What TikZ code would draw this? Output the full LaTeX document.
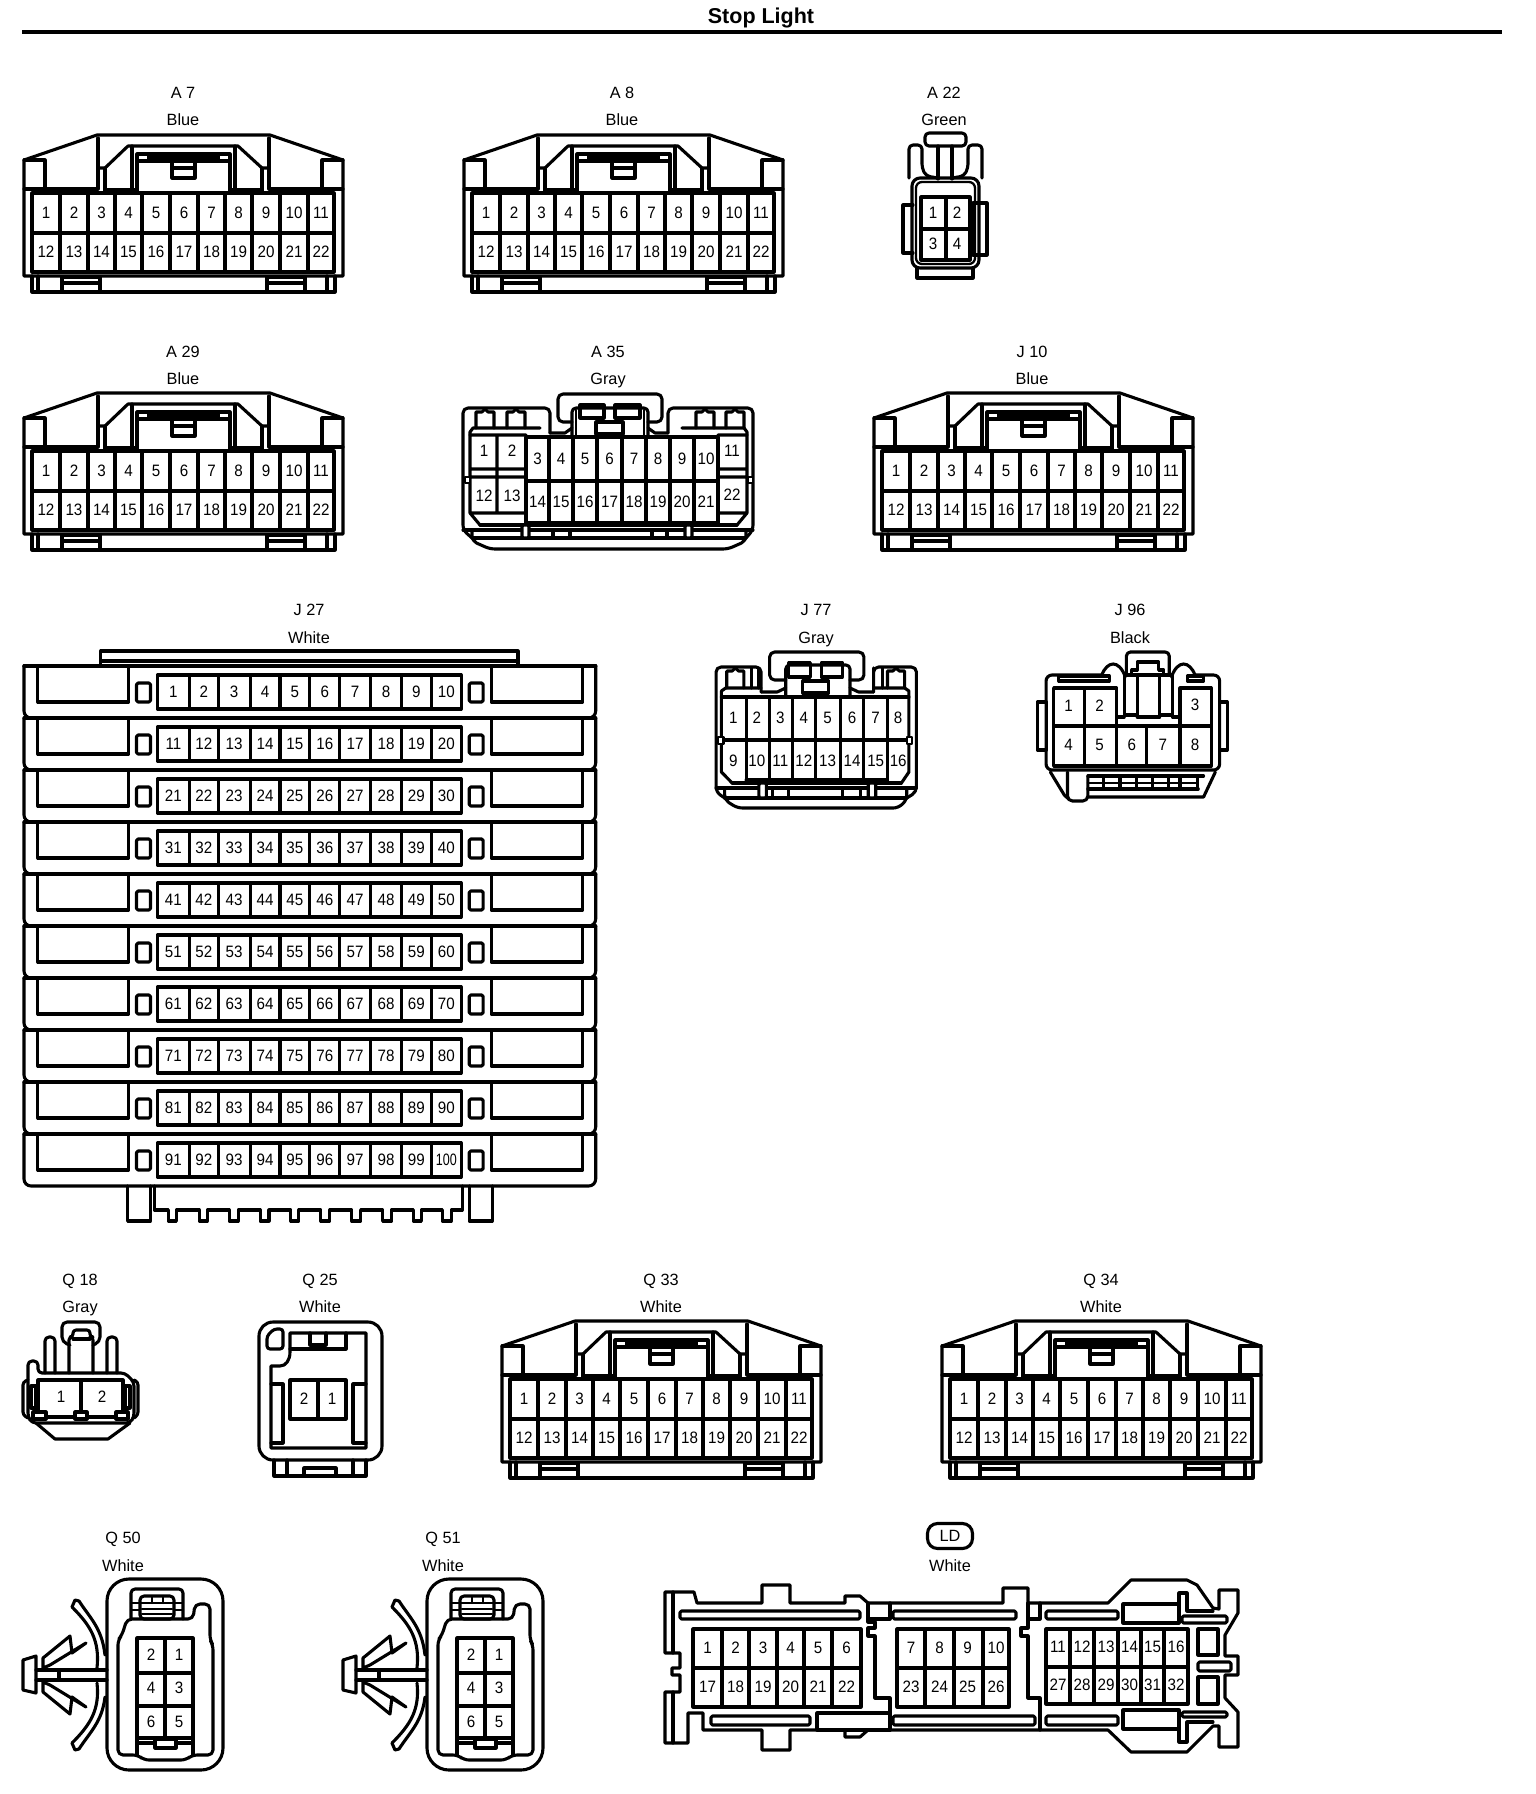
\documentclass[tikz,border=0pt]{standalone}
\usepackage{fontspec}
\setmainfont{Liberation Sans}
\newfontfamily\numf[FakeStretch=0.92]{Liberation Sans}
\newfontfamily\numg[FakeStretch=0.76]{Liberation Sans}
\newcount\nodeid
\tikzset{
  ln/.style={line width=3.1pt,line join=round,line cap=round},
  thn/.style={line width=2.3pt,line join=round,line cap=round},
  pintext/.style={font=\numf\fontsize{16.5}{17}\selectfont,inner sep=0pt,text=black},
  captext/.style={font=\fontsize{16.3}{17}\selectfont,inner sep=0pt,text=black,anchor=base},
  caprnd/.style={draw,ln,rounded corners=10pt,minimum width=45pt,minimum height=25pt,inner sep=0pt,font=\fontsize{16.3}{17}\selectfont}
}
\newcommand\pin[3]{\global\advance\nodeid by 1 \node[pintext] (p\the\nodeid) at (#1,#2) {#3};}
\newcommand\captxt[3]{\global\advance\nodeid by 1 \node[captext] (c\the\nodeid) at (#1,#2+6.5) {#3};}
\newcommand\gridv[3]{\foreach \vx in {#1} {\draw[ln] (\vx,#2) -- (\vx,#3);}}
\newcommand\hut[4][9]{\draw[ln] (#2-#1,#3) -- (#2-#1,#4+3) -- (#2-3,#4+3) -- (#2,#4) -- (#2+3,#4+3) -- (#2+#1,#4+3) -- (#2+#1,#3);}
% 22-way connector, drawn at its A7 position and shifted
\newcommand\twentytwo[2]{
\begin{scope}[shift={(#1,#2)}]
 \draw[ln] (24,276) -- (24,160) -- (97,135) -- (270,135) -- (343,160) -- (343,276) -- cycle;
 \draw[ln] (32,276) -- (32,292) -- (335,292) -- (335,276);
 \draw[ln] (38,276) -- (38,292) (327,276) -- (327,292);
 \draw[ln] (62,277) rectangle (100,292) (62,283) -- (100,283);
 \draw[ln] (267,277) rectangle (305,292) (267,283) -- (305,283);
 \draw[ln] (24,160) -- (45,160) -- (45,189) (343,160) -- (322,160) -- (322,189);
 \draw[ln] (24,189) -- (98,189) -- (98,138) (343,189) -- (269,189) -- (269,138);
 \draw[ln] (98,168) -- (105,168) -- (128,146) -- (238,146) -- (262,168) -- (269,168);
 \draw[ln] (105,168) -- (105,193) (262,168) -- (262,193);
 \draw[ln] (105,190) -- (137,190) (230,190) -- (262,190);
 \draw[ln] (132,146) -- (132,190) (235,146) -- (235,190);
 \draw[ln] (137,193) -- (137,154) -- (230,154) -- (230,193);
 \fill (149,154) rectangle (218,161);
 \draw[ln] (137,161) -- (230,161) (149,154) -- (149,161) (218,154) -- (218,161);
 \draw[ln] (172,161) -- (172,178) -- (195,178) -- (195,161) (172,168) -- (195,168);
 \draw[ln] (32,193) rectangle (334,272) (32,233) -- (334,233);
 \gridv{60,88,115,142,170,198,225,252,280,308}{193}{272}
 \foreach \px/\ta/\tb in {46/1/12,74/2/13,101.5/3/14,128.5/4/15,156/5/16,184/6/17,211.5/7/18,238.5/8/19,266/9/20,294/10/21,321/11/22}{
   \pin{\px}{213}{\ta}\pin{\px}{252}{\tb}}
\end{scope}}
% clip-mounted 6-way connector
\newcommand\sixway[1]{
\begin{scope}[shift={(#1,0)}]
 \draw[ln,rounded corners=22pt] (107,1579) rectangle (223,1770);
 \draw[ln,rounded corners=5pt] (127,1619) -- (193,1619) -- (195,1604) -- (210,1604) -- (210,1640) -- (213,1645) -- (213,1755) -- (192,1755) -- (186,1760) -- (144,1760) -- (138,1755) -- (118,1755) -- (118,1640) -- (122,1635) -- cycle;
 \draw[ln] (137,1755) -- (137,1638) -- (193,1638) -- (193,1755);
 \draw[ln] (137,1673) -- (193,1673) (137,1706) -- (193,1706) (137,1738) -- (193,1738) (137,1743) -- (193,1743) (165,1638) -- (165,1738);
 \draw[ln,fill=white] (155,1739) rectangle (176,1748);
 \draw[ln,rounded corners=4pt] (131,1619) -- (131,1589) -- (183,1589) -- (183,1619);
 \draw[ln,rounded corners=4pt] (140,1619) -- (140,1596) -- (174,1596) -- (174,1619) -- cycle;
 \draw[thn] (131,1603) -- (174,1603) (174,1603) -- (183,1603) (131,1610) -- (140,1610) (174,1610) -- (183,1610) (152,1596) -- (152,1603) (163,1596) -- (163,1603) (142,1609) -- (172,1609) (142,1614) -- (172,1614);
 \draw[ln] (36,1670) -- (107,1670) (36,1680) -- (107,1680) (59,1670) -- (59,1680);
 \draw[ln] (23,1660) -- (36,1656) -- (36,1693) -- (23,1690) -- cycle;
 \draw[ln] (43,1668) -- (43,1658) -- (70,1636) -- (72,1653) -- (86,1643) -- (50,1665) -- (43,1668);
 \draw[ln] (43,1682) -- (43,1692) -- (70,1714) -- (72,1697) -- (86,1707) -- (50,1685) -- (43,1682);
 \draw[ln] (79,1601) .. controls (90,1618) and (102,1628) .. (105,1655);
 \draw[ln] (72,1607) .. controls (90,1625) and (100,1640) .. (97,1668);
 \draw[ln] (72,1607) -- (75,1600) -- (79,1601);
 \draw[ln] (79,1749) .. controls (90,1732) and (102,1722) .. (105,1697);
 \draw[ln] (72,1743) .. controls (90,1725) and (100,1710) .. (97,1683);
 \draw[ln] (72,1743) -- (75,1750) -- (79,1749);
 \foreach \px/\py/\t in {151/1655/2,179/1655/1,151/1688/4,179/1688/3,151/1722/6,179/1722/5}{\pin{\px}{\py}{\t}}
\end{scope}}
\begin{document}
\begin{tikzpicture}[x=1pt,y=-1pt]
\useasboundingbox (0,0) rectangle (1536,1794);
\fill[white] (0,0) rectangle (1536,1794);
% title
\node[font=\bfseries\fontsize{21.5}{22}\selectfont,inner sep=0pt] (title) at (761,18) {Stop Light};
\coordinate (ruleL) at (22,32);
\coordinate (ruleR) at (1502,32);
\draw[line width=3.6pt] (ruleL) -- (ruleR);
% captions
\foreach \cx/\cy/\t in {183/92/A 7,183/119/Blue,622/92/A 8,622/119/Blue,944/92/A 22,944/119/Green,
 183/351/A 29,183/378/Blue,608/351/A 35,608/378/Gray,1032/351/J 10,1032/378/Blue,
 309/609/J 27,309/637/White,816/609/J 77,816/637/Gray,1130/609/J 96,1130/637/Black,
 80/1279/Q 18,80/1306/Gray,320/1279/Q 25,320/1306/White,661/1279/Q 33,661/1306/White,1101/1279/Q 34,1101/1306/White,
 123/1537/Q 50,123/1565/White,443/1537/Q 51,443/1565/White,950/1565/White}{\captxt{\cx}{\cy}{\t}}
\node[caprnd] (ld) at (950,1536) {LD};
% 22-way
\twentytwo{0}{0}\twentytwo{440}{0}\twentytwo{0}{258}\twentytwo{850}{258}\twentytwo{478}{1186}\twentytwo{918}{1186}
% A22
\draw[ln,rounded corners=4pt] (925,133) rectangle (966,146);
\draw[ln] (938,146) -- (938,179) (952,146) -- (952,179);
\draw[ln,rounded corners=4pt] (909,178) -- (909,145) -- (922,145) -- (922,168) -- (926,176) -- (938,178);
\draw[ln,rounded corners=4pt] (982,178) -- (982,145) -- (968,145) -- (968,168) -- (964,176) -- (952,178);
\draw[ln,rounded corners=8pt] (912,178) -- (912,268) -- (979,268) -- (979,178) -- cycle;
\draw[thn,rounded corners=6pt] (916,182) -- (916,264) -- (975,264) -- (975,182) -- cycle;
\draw[ln] (913,205) -- (903,205) -- (903,253) -- (913,253);
\draw[ln] (973,203) rectangle (987,255);
\draw[ln] (917,268) -- (917,278) -- (973,278) -- (973,268);
\draw[ln] (921,197) rectangle (970,260) (921,229) -- (970,229) (946,197) -- (946,260);
\pin{933}{213}{1}\pin{957}{213}{2}\pin{933}{244}{3}\pin{957}{244}{4}
% A35
\draw[ln,rounded corners=5pt] (550,433) -- (550,408) -- (463,408) -- (463,530) -- (472,538);
\draw[ln,rounded corners=5pt] (668,433) -- (668,408) -- (753,408) -- (753,530) -- (746,538);
\draw[ln,rounded corners=5pt] (572,422) -- (558,422) -- (558,394) -- (662,394) -- (662,422) -- (648,422);
\draw[ln,rounded corners=4pt] (572,437) -- (572,408) -- (648,408) -- (648,437);
\draw[thn] (576,410) -- (576,437) (644,410) -- (644,437);
\draw[ln] (550,433) -- (565,433) -- (572,428) (668,433) -- (655,433) -- (648,428);
\draw[ln] (470,435) -- (470,432) -- (473,428) -- (540,428) (747,435) -- (747,432) -- (744,428) -- (682,428);
\draw[ln] (580,405) rectangle (604,418) (615,405) rectangle (640,418) (596,422) rectangle (623,434);
\hut{485}{428}{409}\hut{516}{428}{409}\hut{705}{428}{409}\hut{735}{428}{409}
\draw[ln] (526,437) rectangle (718,523) (526,481) -- (718,481);
\gridv{549,573,597,622,646,670,694}{437}{523}
\draw[ln] (470,435) -- (526,435) (470,435) -- (470,513) -- (480,525) (470,469) -- (526,469) (470,477) -- (526,477) (470,513) -- (526,513) (497,435) -- (497,513);
\draw[ln] (718,435) -- (747,435) -- (747,513) -- (737,525) (718,469) -- (747,469) (718,477) -- (747,477) (718,513) -- (747,513);
\draw[thn,fill=white] (465,477) rectangle (470,483) (748,477) rectangle (753,483);
\draw[ln] (480,525) -- (737,525) (463,530) -- (753,530) (472,538) -- (746,538);
\draw[ln,rounded corners=5pt] (472,530) -- (472,541) -- (490,549) -- (728,549) -- (746,541) -- (746,530);
\draw[ln,fill=white,rounded corners=2pt] (522,525) rectangle (529,538) (685,525) rectangle (692,538);
\draw[ln] (553,530) -- (553,538) (570,530) -- (570,538) (652,530) -- (652,538) (667,530) -- (667,538);
\foreach \px/\py/\t in {484/451/1,512/451/2,484/496/12,512/496/13,732/451/11,732/495/22}{\pin{\px}{\py}{\t}}
\foreach \px/\ta/\tb in {537.5/3/14,561/4/15,585/5/16,609.5/6/17,634/7/18,658/8/19,682/9/20,706/10/21}{\pin{\px}{459}{\ta}\pin{\px}{502}{\tb}}
% J27
\begin{scope}[shift={(24,0)},xscale=0.996,shift={(-24,0)}]
\draw[ln] (24,666) -- (101,666) -- (101,651) -- (520,651) -- (520,666) -- (598,666) (101,661) -- (520,661);
\foreach \r in {0,...,9}{
  \pgfmathsetmacro\tp{666+52*\r}
  \draw[ln,rounded corners=7pt] (24,\tp) -- (24,\tp+52) -- (598,\tp+52) -- (598,\tp);
  \draw[ln] (24,\tp) -- (598,\tp);
  \draw[ln] (38,\tp) -- (38,\tp+36) -- (129,\tp+36) -- (129,\tp);
  \draw[ln] (585,\tp) -- (585,\tp+36) -- (493,\tp+36) -- (493,\tp);
  \draw[ln,rounded corners=1.5pt] (137,\tp+17) rectangle (151,\tp+36);
  \draw[ln,rounded corners=1.5pt] (471,\tp+17) rectangle (485,\tp+36);
  \draw[ln] (158,\tp+9) rectangle (463,\tp+43);
  \gridv{190,219,251,281,311,341,372,403,433}{\tp+9}{\tp+43}
  \foreach \k/\px in {1/174,2/204.5,3/235,4/266,5/296,6/326,7/356.5,8/387.5,9/418,10/448}{
    \pgfmathtruncatemacro\pn{10*\r+\k}
    \ifnum\pn=100 \global\advance\nodeid by 1 \node[pintext,font=\numg\fontsize{16.5}{17}\selectfont] (p\the\nodeid) at (\px,\tp+26) {\pn};\else \pin{\px}{\tp+26}{\pn}\fi
  }
}
\draw[ln] (128,1186) -- (128,1221) -- (151,1221) -- (151,1186);
\draw[ln] (471,1186) -- (471,1221) -- (494,1221) -- (494,1186);
\draw[ln] (155,1186) -- (155,1210) -- (169,1210) -- (169,1221) -- (177,1221) -- (177,1210) -- (200,1210) -- (200,1221) -- (208,1221) -- (208,1210) -- (230,1210) -- (230,1221) -- (239,1221) -- (239,1210) -- (261,1210) -- (261,1221) -- (270,1221) -- (270,1210) -- (292,1210) -- (292,1221) -- (300,1221) -- (300,1210) -- (322,1210) -- (322,1221) -- (331,1221) -- (331,1210) -- (353,1210) -- (353,1221) -- (362,1221) -- (362,1210) -- (384,1210) -- (384,1221) -- (393,1221) -- (393,1210) -- (415,1210) -- (415,1221) -- (423,1221) -- (423,1210) -- (444,1210) -- (444,1221) -- (453,1221) -- (453,1210) -- (464,1210) -- (464,1186);
\end{scope}
% J77 and J96 (measured on a narrowed crop, stretched back about x=700)
\begin{scope}[shift={(700,0)},xscale=1.0714,shift={(-700,0)}]
% J77
\draw[ln,rounded corners=5pt] (757,692) -- (757,667) -- (715,667) -- (715,792) -- (723,798);
\draw[ln,rounded corners=5pt] (862,692) -- (862,667) -- (902,667) -- (902,792) -- (893,798);
\draw[ln,rounded corners=5pt] (780,680) -- (765,680) -- (765,652) -- (853,652) -- (853,680) -- (840,680);
\draw[ln,rounded corners=4pt] (780,697) -- (780,665) -- (840,665) -- (840,697);
\draw[ln] (757,692) -- (772,692) -- (780,688) (862,692) -- (848,692) -- (840,688);
\draw[ln] (720,697) -- (720,691) -- (724,688) -- (757,688) (895,697) -- (895,691) -- (891,688) -- (862,688);
\draw[ln] (783,663) rectangle (803,677) (813,663) rectangle (833,677) (796,681) rectangle (820,693);
\hut[8]{733}{688}{668}\hut[8]{883}{688}{668}
\draw[ln] (748,668) -- (748,688) (755,668) -- (755,688) (862,668) -- (862,688) (870,668) -- (870,688);
\draw[ln] (720,697) -- (895,697) (720,740) -- (895,740) (743,780) -- (875,780);
\draw[ln] (720,697) -- (720,772) -- (730,783) (895,697) -- (895,772) -- (888,783);
\gridv{743,765,786,808,831,853,875}{697}{780}
\draw[thn,fill=white] (717,737) rectangle (722,744) (893,737) rectangle (898,744);
\draw[ln] (730,783) -- (888,783) (715,788) -- (902,788) (723,798) -- (893,798);
\draw[ln,rounded corners=5pt] (723,788) -- (723,800) -- (735,808) -- (885,808) -- (893,800) -- (893,788);
\draw[ln,fill=white,rounded corners=2pt] (755,783) rectangle (762,798) (857,783) rectangle (864,798);
\draw[ln] (768,788) -- (768,798) (783,788) -- (783,798) (833,788) -- (833,798) (850,788) -- (850,798);
\foreach \px/\ta/\tb in {731/1/9,753/2/10,775/3/11,797/4/12,819/5/13,842/6/14,864/7/15,885/8/16}{\pin{\px}{718}{\ta}\pin{\px}{761}{\tb}}
% J96
\draw[ln,rounded corners=6pt] (1075,675) -- (1023,675) -- (1023,770) -- (1185,770) -- (1185,675) -- (1162,675);
\draw[ln] (1075,675) .. controls (1080,661) and (1091,659) .. (1097,677);
\draw[ln] (1140,677) .. controls (1146,659) and (1157,661) .. (1162,675);
\draw[ln,rounded corners=4pt] (1098,675) -- (1098,652) -- (1138,652) -- (1138,675);
\draw[ln] (1103,675) -- (1103,670) -- (1108,670) -- (1108,662) -- (1128,662) -- (1128,670) -- (1133,670) -- (1133,675) -- (1103,675);
\draw[ln] (1096,675) rectangle (1108,715) (1129,675) rectangle (1141,715);
\draw[ln] (1035,676) rectangle (1082,681) (1155,676) rectangle (1170,681);
\draw[ln] (1015,702) rectangle (1023,750) (1185,702) rectangle (1192,750);
\draw[ln] (1030,726) -- (1030,688) -- (1089,688) -- (1089,726) (1148,726) -- (1148,688) -- (1177,688) -- (1177,726);
\draw[ln] (1030,726) rectangle (1177,766) (1059,688) -- (1059,766);
\gridv{1089,1117,1148}{726}{766}
\draw[ln] (1089,717) -- (1096,717) (1141,717) -- (1148,717);
\draw[ln] (1108,717) -- (1129,717);
\draw[ln] (1027,772) -- (1040,795) -- (1044,799) (1181,772) -- (1170,797) -- (1062,797);
\draw[ln,rounded corners=5pt] (1043,772) -- (1043,801) -- (1062,801) -- (1062,776);
\draw[ln] (1062,776) -- (1170,776) (1062,789) -- (1165,789);
\foreach \vx in {1077,1092,1107,1122,1137,1148,1164}{\draw[ln] (\vx,776) -- (\vx,789);}
\draw[thn] (1062,783) -- (1164,783);
\foreach \px/\py/\t in {1044/706/1,1073/706/2,1162/705/3,1044/745/4,1073/745/5,1103/745/6,1132/745/7,1162/745/8}{\pin{\px}{\py}{\t}}
\end{scope}
% Q18
\draw[ln,rounded corners=5pt] (70,1345) -- (62,1342) -- (62,1322) -- (100,1322) -- (100,1342) -- (93,1345);
\draw[ln,rounded corners=3pt] (69,1373) -- (69,1337) -- (73,1337) -- (73,1330) -- (90,1330) -- (90,1337) -- (93,1337) -- (93,1373);
\draw[ln] (73,1339) -- (90,1339);
\draw[ln,rounded corners=4pt] (45,1373) -- (45,1337) -- (55,1337) -- (55,1373);
\draw[ln,rounded corners=4pt] (107,1373) -- (107,1337) -- (117,1337) -- (117,1373);
\draw[ln,rounded corners=4pt] (28,1417) -- (28,1361) -- (38,1361) -- (38,1373) -- (125,1373) -- (134,1382) -- (134,1417) -- (130,1423) -- (32,1423) -- cycle;
\draw[ln] (36,1423) -- (55,1439) -- (108,1439) -- (130,1423);
\draw[ln] (38,1417) -- (38,1380) -- (123,1380) -- (123,1417) (81,1380) -- (81,1417) (36,1417) -- (128,1417);
\draw[ln,rounded corners=3pt] (28,1380) -- (23,1382) -- (23,1415) -- (28,1418);
\draw[ln,rounded corners=3pt] (134,1380) -- (138,1382) -- (138,1415) -- (134,1418);
\draw[ln] (31,1386) rectangle (36,1408) (125,1386) rectangle (130,1408);
\draw[ln,fill=white] (33,1412) rectangle (46,1419) (75,1412) rectangle (87,1419) (116,1412) rectangle (128,1419);
\pin{61}{1397}{1}\pin{102}{1397}{2}
% Q25
\draw[ln,rounded corners=14pt] (259,1322) rectangle (382,1460);
\draw[ln] (274,1460) -- (274,1476) -- (366,1476) -- (366,1460) (287,1460) -- (287,1476) (353,1460) -- (353,1476) (304,1476) -- (304,1468) -- (336,1468) -- (336,1476);
\draw[ln,rounded corners=3pt] (267,1349) -- (267,1336) -- (274,1329) -- (283,1329) -- (283,1349) -- cycle;
\draw[ln] (290,1352) -- (290,1333) -- (366,1333) -- (366,1448) -- (271,1448) -- (271,1366) -- (280,1366) .. controls (286,1366) and (290,1360) .. (290,1352);
\draw[ln] (290,1349) -- (346,1349) -- (346,1333) (310,1333) -- (310,1345) -- (326,1345) -- (326,1333);
\draw[ln] (290,1380) rectangle (346,1419) (318,1380) -- (318,1419);
\draw[ln] (283,1443) -- (283,1384) -- (271,1384) (271,1443) -- (283,1443);
\draw[ln] (353,1443) -- (353,1384) -- (366,1384) (353,1443) -- (366,1443);
\pin{304}{1399}{2}\pin{332}{1399}{1}
% Q50 Q51
\sixway{0}\sixway{320}
% LD
\draw[ln] (665,1592) -- (694,1592) -- (697,1603) -- (762,1603) -- (762,1585) -- (790,1585) -- (790,1603) -- (845,1603) -- (845,1596) -- (860,1596) -- (868,1603) -- (1003,1603) -- (1003,1588) -- (1028,1588) -- (1028,1603) -- (1108,1603) -- (1131,1580) -- (1187,1580) -- (1197,1585) -- (1213,1608) -- (1219,1609) -- (1219,1590) -- (1238,1590) -- (1238,1613) -- (1225,1635) -- (1225,1656) -- (1238,1656) -- (1238,1675) -- (1225,1675) -- (1225,1698) -- (1238,1712) -- (1238,1747) -- (1219,1747) -- (1219,1726) -- (1213,1726) -- (1187,1752) -- (1131,1752) -- (1108,1730) -- (868,1730) -- (860,1737) -- (845,1737) -- (845,1730) -- (790,1730) -- (790,1750) -- (762,1750) -- (762,1730) -- (703,1730) -- (703,1713) -- (688,1713) -- (688,1743) -- (665,1743) -- (665,1692) -- (680,1692) -- (680,1675) -- (672,1675) -- (672,1668) -- (680,1668) -- (680,1653) -- (665,1653) -- cycle;
\draw[ln] (673,1592) -- (673,1653) (673,1692) -- (673,1743);
\draw[ln,rounded corners=1.5pt] (680,1611) rectangle (860,1619) (711,1716) rectangle (810,1725);
\draw[ln] (817,1713) rectangle (890,1730);
\draw[ln] (868,1603) -- (868,1622) -- (875,1622) -- (875,1628) -- (868,1628) -- (868,1636) -- (875,1636) -- (875,1698) -- (890,1698) -- (890,1730) (868,1619) -- (890,1619) -- (890,1603);
\draw[ln,rounded corners=1.5pt] (893,1611) rectangle (1016,1619) (893,1716) rectangle (1035,1725);
\draw[ln] (1028,1603) -- (1028,1628) -- (1021,1628) -- (1021,1636) -- (1028,1636) -- (1028,1698) -- (1040,1698) -- (1040,1730) (1028,1619) -- (1040,1619) -- (1040,1603);
\draw[ln,rounded corners=1.5pt] (1046,1611) rectangle (1118,1619) (1046,1716) rectangle (1118,1725);
\draw[ln] (693,1629) rectangle (861,1707) (693,1668) -- (861,1668);
\gridv{722,749,777,804,832}{1629}{1707}
\draw[ln] (897,1629) rectangle (1009,1707) (897,1668) -- (1009,1668);
\gridv{925,954,983}{1629}{1707}
\draw[ln] (1046,1629) rectangle (1188,1704) (1046,1667) -- (1188,1667);
\gridv{1070,1094,1118,1141,1164}{1629}{1704}
\draw[ln] (1179,1604) -- (1123,1604) -- (1123,1623) -- (1179,1623) -- (1179,1593) -- (1187,1593) -- (1187,1611) -- (1213,1611);
\draw[ln] (1179,1729) -- (1123,1729) -- (1123,1710) -- (1179,1710) -- (1179,1742) -- (1187,1742) -- (1187,1722) -- (1213,1722);
\draw[ln,rounded corners=1.5pt] (1182,1616) rectangle (1227,1623) (1182,1712) rectangle (1227,1717) (1198,1662) rectangle (1231,1671);
\draw[ln] (1198,1629) rectangle (1218,1655) (1198,1677) rectangle (1218,1704);
\foreach \px/\ta/\tb in {707.5/1/17,735.5/2/18,763/3/19,790.5/4/20,818/5/21,846.5/6/22,911/7/23,939.5/8/24,967.5/9/25,996/10/26}{\pin{\px}{1648}{\ta}\pin{\px}{1687}{\tb}}
\foreach \px/\ta/\tb in {1058/11/27,1082/12/28,1106/13/29,1129.5/14/30,1152.5/15/31,1176/16/32}{\pin{\px}{1647}{\ta}\pin{\px}{1685}{\tb}}
\end{tikzpicture}
\end{document}
